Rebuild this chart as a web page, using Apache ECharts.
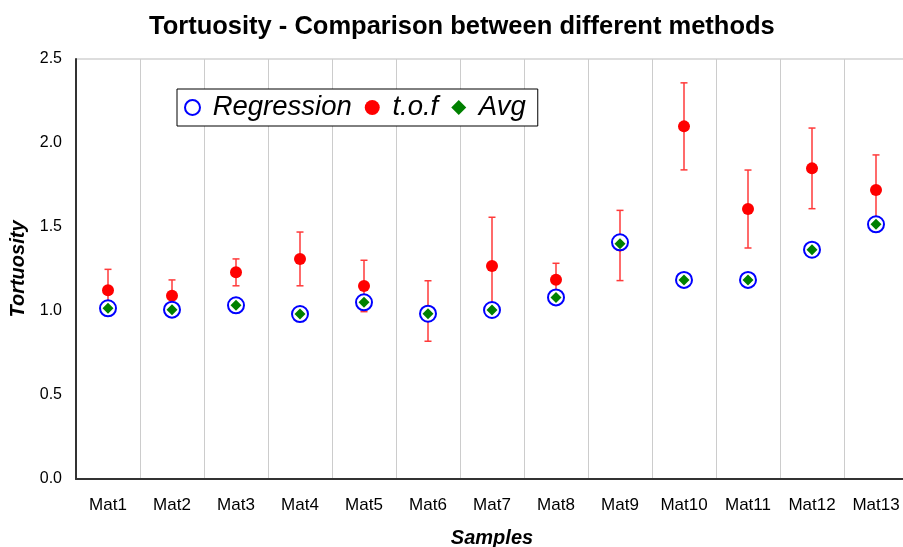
<!DOCTYPE html>
<html>
<head>
<meta charset="utf-8">
<script src="https://cdn.jsdelivr.net/npm/echarts@6/dist/echarts.min.js"></script>
<style>
  html, body { margin: 0; padding: 0; background: #fff; }
  #chart { width: 903px; height: 547px; }
</style>
</head>
<body>
<div id="chart"></div>
<script>
var samples = ['Mat1', 'Mat2', 'Mat3', 'Mat4', 'Mat5', 'Mat6', 'Mat7', 'Mat8', 'Mat9', 'Mat10', 'Mat11', 'Mat12', 'Mat13'];
var regression = [1.016, 1.008, 1.034, 0.982, 1.052, 0.984, 1.006, 1.081, 1.409, 1.185, 1.185, 1.365, 1.516];
var tof = [1.123, 1.091, 1.230, 1.310, 1.149, 1.000, 1.268, 1.186, 1.390, 2.099, 1.607, 1.849, 1.720];
var tofErr = [0.125, 0.094, 0.080, 0.160, 0.153, 0.180, 0.290, 0.098, 0.209, 0.259, 0.232, 0.240, 0.209];
var avg = [1.016, 1.008, 1.034, 0.982, 1.052, 0.984, 1.006, 1.081, 1.400, 1.185, 1.185, 1.365, 1.516];

var font = '"Liberation Sans", Arial, sans-serif';

// error bar rows: [category index, low, high]
var errData = tof.map(function (v, i) {
  return [i, v - tofErr[i], v + tofErr[i]];
});

var chart = echarts.init(document.getElementById('chart'));
chart.setOption({
  animation: false,
  backgroundColor: '#fff',
  title: {
    text: 'Tortuosity - Comparison between different methods',
    left: 144,
    top: 9,
    textStyle: { fontFamily: font, fontSize: 25.5, fontWeight: 'bold', color: '#000' }
  },
  legend: {
    left: 177,
    top: 89,
    orient: 'horizontal',
    data: ['Regression', 't.o.f', 'Avg'],
    backgroundColor: '#fff',
    borderColor: '#000',
    borderWidth: 1,
    borderRadius: 0,
    padding: [5, 12, 5, 7],
    itemGap: 13,
    itemWidth: 15,
    itemHeight: 15,
    formatter: function (name) { return ' ' + name; },
    textStyle: { fontFamily: font, fontSize: 27.5, fontStyle: 'italic', color: '#000' }
  },
  grid: {
    left: 76,
    right: -5,
    top: 59,
    bottom: 68,
    outerBoundsMode: 'none',
    show: true,
    borderColor: '#bbb',
    borderWidth: 1
  },
  xAxis: {
    type: 'category',
    data: samples,
    name: 'Samples',
    nameLocation: 'middle',
    nameGap: 49,
    nameTextStyle: { fontFamily: font, fontSize: 20, fontWeight: 'bold', fontStyle: 'italic', color: '#000' },
    axisLine: { lineStyle: { color: '#333', width: 2 } },
    axisTick: { show: false },
    axisLabel: { fontFamily: font, fontSize: 17, color: '#000', margin: 18 },
    splitLine: { show: true, lineStyle: { color: '#ccc', width: 1 } }
  },
  yAxis: {
    type: 'value',
    min: 0,
    max: 2.5,
    interval: 0.5,
    name: 'Tortuosity',
    nameLocation: 'middle',
    nameGap: 48,
    nameRotate: 90,
    nameTextStyle: { fontFamily: font, fontSize: 20, fontWeight: 'bold', fontStyle: 'italic', color: '#000' },
    axisLine: { show: true, lineStyle: { color: '#333', width: 2 } },
    axisTick: { show: false },
    axisLabel: {
      fontFamily: font, fontSize: 16, color: '#000', margin: 14,
      formatter: function (v) { return v.toFixed(1); }
    },
    splitLine: { show: false }
  },
  series: [
    {
      name: 'tofErr',
      type: 'custom',
      data: errData,
      z: 1,
      renderItem: function (params, api) {
        var x = api.value(0);
        var lo = api.coord([x, api.value(1)]);
        var hi = api.coord([x, api.value(2)]);
        var cap = 3.5;
        var style = { stroke: '#ff3a3a', lineWidth: 1.5 };
        return {
          type: 'group',
          children: [
            { type: 'line', shape: { x1: hi[0], y1: hi[1], x2: lo[0], y2: lo[1] }, style: style },
            { type: 'line', shape: { x1: hi[0] - cap, y1: hi[1], x2: hi[0] + cap, y2: hi[1] }, style: style },
            { type: 'line', shape: { x1: lo[0] - cap, y1: lo[1], x2: lo[0] + cap, y2: lo[1] }, style: style }
          ]
        };
      }
    },
    {
      name: 't.o.f',
      type: 'scatter',
      data: tof,
      symbol: 'circle',
      symbolSize: 12,
      z: 2,
      itemStyle: { color: '#ff0000', opacity: 1 }
    },
    {
      name: 'Regression',
      type: 'scatter',
      data: regression,
      symbol: 'emptyCircle',
      symbolSize: 16,
      z: 3,
      itemStyle: { color: '#0000ff', borderColor: '#0000ff', borderWidth: 1.5, opacity: 1 }
    },
    {
      name: 'Avg',
      type: 'scatter',
      data: avg,
      symbol: 'diamond',
      symbolSize: 11,
      z: 4,
      itemStyle: { color: '#008000', opacity: 1 }
    }
  ]
});
</script>
</body>
</html>
